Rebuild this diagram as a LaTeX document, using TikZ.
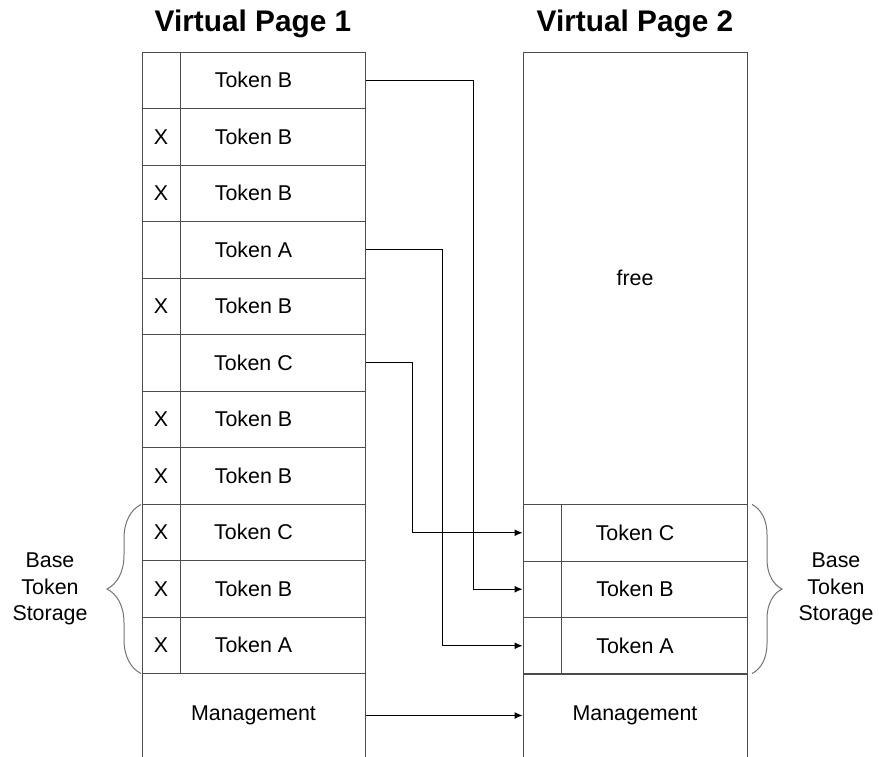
\documentclass[tikz,border=0pt]{standalone}
\usepackage{fontspec}
\setmainfont{Liberation Sans}
\usetikzlibrary{arrows.meta}
\usetikzlibrary{decorations.pathreplacing}
\definecolor{linegray}{gray}{0.3}
\definecolor{bracegray}{gray}{0.45}

\begin{document}
\begin{tikzpicture}[x=1pt,y=-1pt,
    cell/.style={draw=linegray,line width=1pt,minimum height=56.5pt,inner sep=0pt,
      font=\fontsize{21.4}{25}\selectfont},
    colcell/.style={cell,minimum width=223pt},
    markcell/.style={cell,minimum width=38pt},
    title/.style={font=\fontsize{29.8}{34}\selectfont\bfseries,anchor=base},
    link/.style={line width=1pt,-{Latex[length=8pt,width=7pt]}},
    curly/.style={draw=bracegray,line width=1pt,decorate,decoration={brace,amplitude=#1}},
    bracetext/.style={align=center,font=\fontsize{21.4}{26.5}\selectfont}]
    \clip (0,0) rectangle (879,756);
    \node[title] (t1) at (253,31) {Virtual Page 1};
    \node[title] (t2) at (635,31) {Virtual Page 2};

    % Virtual Page 1
    \foreach \m/\t [count=\i] in {{}/B,X/B,X/B,{}/A,X/B,{}/C,X/B,X/B,X/C,X/B,X/A} {
      \node[colcell] (l\i) at (253.5,{52+56.5*(\i-0.5)}) {Token \t};
      \node[markcell] (lx\i) at (161,{52+56.5*(\i-0.5)}) {\m};
    }
    \node[colcell,minimum height=84pt] (lm) at (253.5,715.5) {Management};

    % Virtual Page 2
    \node[cell,minimum width=224pt,minimum height=452.5pt] (free) at (635,278.25) {free};
    \foreach \t [count=\i] in {C,B,A} {
      \node[colcell,minimum width=224pt] (r\t) at (635,{504.5+56.5*(\i-0.5)}) {Token \t};
      \node[markcell] (rx\t) at (542,{504.5+56.5*(\i-0.5)}) {};
    }
    \node[colcell,minimum width=224pt,minimum height=84pt] (rm) at (635,715.5) {Management};

    % moves
    \draw[link] (l1.east) -- ++(108,0) |- (rB.west);
    \draw[link] (l4.east) -- ++(77,0) |- (rA.west);
    \draw[link] (l6.east) -- ++(47,0) |- (rC.west);
    \draw[link] (lm.east) -- (rm.west);

    % base storage
    \draw[curly=34pt] (141,673.5) -- (141,504.5);
    \draw[curly=30pt] (752,504.5) -- (752,673.5);
    \node[bracetext] (lbase) at (50,589) {Base\\Token\\Storage};
    \node[bracetext] (rbase) at (836,589) {Base\\Token\\Storage};
  \end{tikzpicture}
\end{document}
